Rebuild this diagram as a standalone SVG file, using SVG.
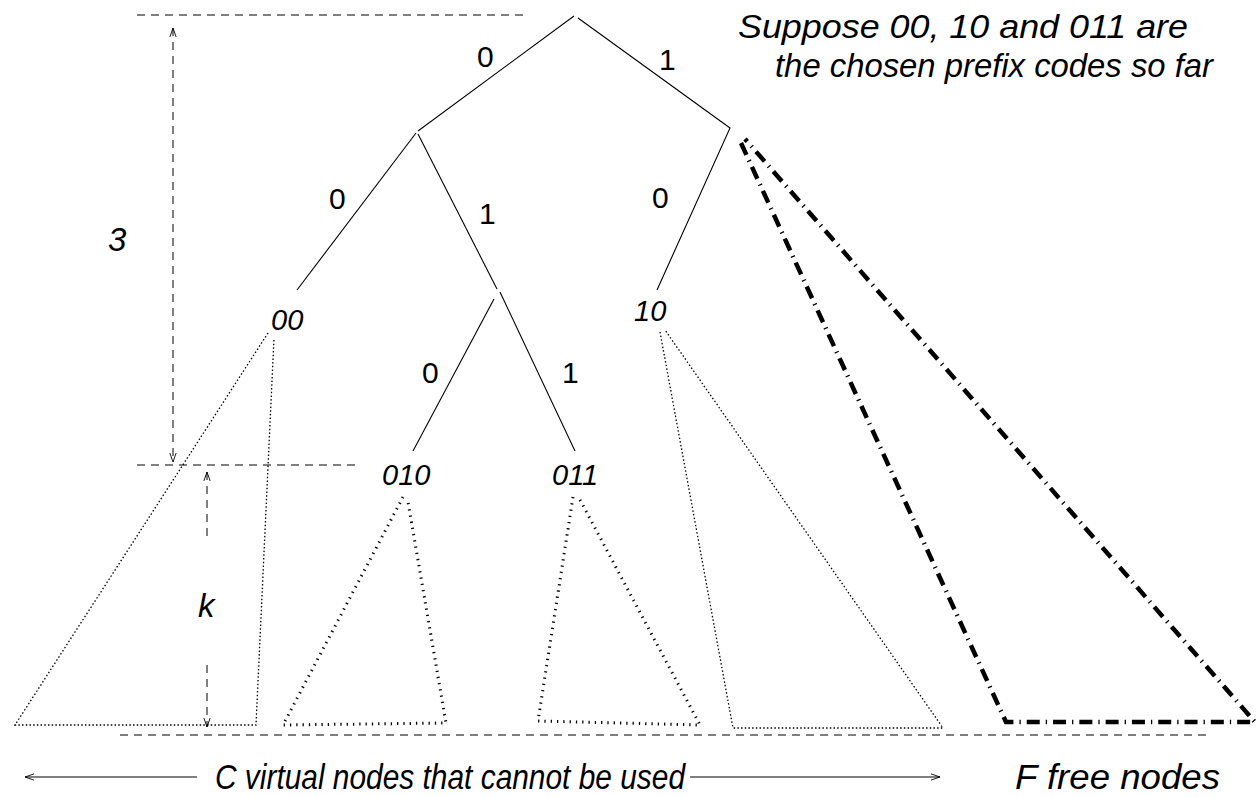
<svg xmlns="http://www.w3.org/2000/svg" width="1257" height="797" viewBox="0 0 1257 797">
<style>
  .bg{fill:#fff}
  .edge{stroke:#000;stroke-width:1.1;fill:none}
  .dim{stroke:#000;stroke-width:1;fill:none;stroke-dasharray:8 6}
  .fine{stroke:#000;stroke-width:1.3;fill:none;stroke-dasharray:1.5 2.2}
  .thick{stroke:#000;stroke-width:3;fill:none;stroke-dasharray:1.3 5}
  .dashdot{stroke:#000;stroke-width:4.5;fill:none;stroke-dasharray:13 6 1.3 6}
  .solid{stroke:#000;stroke-width:1;fill:none}
  text{font-family:"Liberation Sans",Arial,sans-serif;fill:#000}
  .lbl{font-size:30px}
  .nd{font-size:29px;font-style:italic}
  .big{font-size:33px;font-style:italic}
  .bot{font-size:35px;font-style:italic}
  .dl{font-size:33px;font-style:italic}
</style>
<defs>
  <marker id="arr" viewBox="0 0 10 10" refX="10" refY="5" markerWidth="9" markerHeight="9" orient="auto-start-reverse" markerUnits="userSpaceOnUse">
    <path d="M0,1.5 L10,5 L0,8.5" fill="none" stroke="#000" stroke-width="1" stroke-dasharray="none"/>
  </marker>
</defs>
<rect class="bg" x="0" y="0" width="1257" height="797"/>

<g id="connectors">
  <path class="edge" d="M574,16 L418,131"/>
  <path class="edge" d="M578,18 L730,128 L657,290"/>
  <path class="edge" d="M416,133 L297,290"/>
  <path class="edge" d="M418,134 L497,289"/>
  <path class="edge" d="M494,299 L413,451"/>
  <path class="edge" d="M500,292 L575,451"/>
  <path class="fine" d="M268,333 L15,725 L256,725 L274,338"/>
  <path class="fine" d="M660,332 L733,728 L943,728 L665,330"/>
  <path class="thick" d="M403,497 L283,725 L446,723 L408,502"/>
  <path class="thick" d="M573,497 L538,721 L700,725 L579,498"/>
  <path class="dashdot" d="M741,143 L1006,722 L1255,722 L745,139"/>
  <path class="dim" d="M137,15 H527"/>
  <path class="dim" d="M173,28 V462" marker-start="url(#arr)" marker-end="url(#arr)"/>
  <path class="dim" d="M137,465 H360"/>
  <path class="dim" d="M207,472 V540" marker-start="url(#arr)"/>
  <path class="dim" d="M207,665 V727" marker-end="url(#arr)"/>
  <path class="dim" d="M120,735 H1210"/>
  <path class="solid" d="M25,777 H197" marker-start="url(#arr)"/>
  <path class="solid" d="M690,777 H940" marker-end="url(#arr)"/>
</g>

<g id="edge-labels">
  <text class="lbl" x="477" y="67">0</text>
  <text class="lbl" x="659" y="70">1</text>
  <text class="lbl" x="329" y="209">0</text>
  <text class="lbl" x="479" y="224">1</text>
  <text class="lbl" x="652" y="208">0</text>
  <text class="lbl" x="422" y="383">0</text>
  <text class="lbl" x="562" y="383">1</text>
</g>

<g id="node-00"><text class="nd" x="271" y="330">00</text></g>
<g id="node-10"><text class="nd" x="634" y="321">10</text></g>
<g id="node-010"><text class="nd" x="382" y="485">010</text></g>
<g id="node-011"><text class="nd" x="552" y="485">011</text></g>

<g id="dimension-labels">
  <text class="dl" x="108" y="251">3</text>
  <text class="dl" x="198" y="617" font-size="35">k</text>
</g>

<g id="annotations">
  <text class="big" x="738" y="38" textLength="450" lengthAdjust="spacingAndGlyphs">Suppose 00, 10 and 011 are</text>
  <text class="big" x="775" y="77" textLength="438" lengthAdjust="spacingAndGlyphs">the chosen prefix codes so far</text>
  <text class="bot" x="215" y="789" textLength="470" lengthAdjust="spacingAndGlyphs">C virtual nodes that cannot be used</text>
  <text class="bot" x="1015" y="789" textLength="205" lengthAdjust="spacingAndGlyphs">F free nodes</text>
</g>
</svg>
